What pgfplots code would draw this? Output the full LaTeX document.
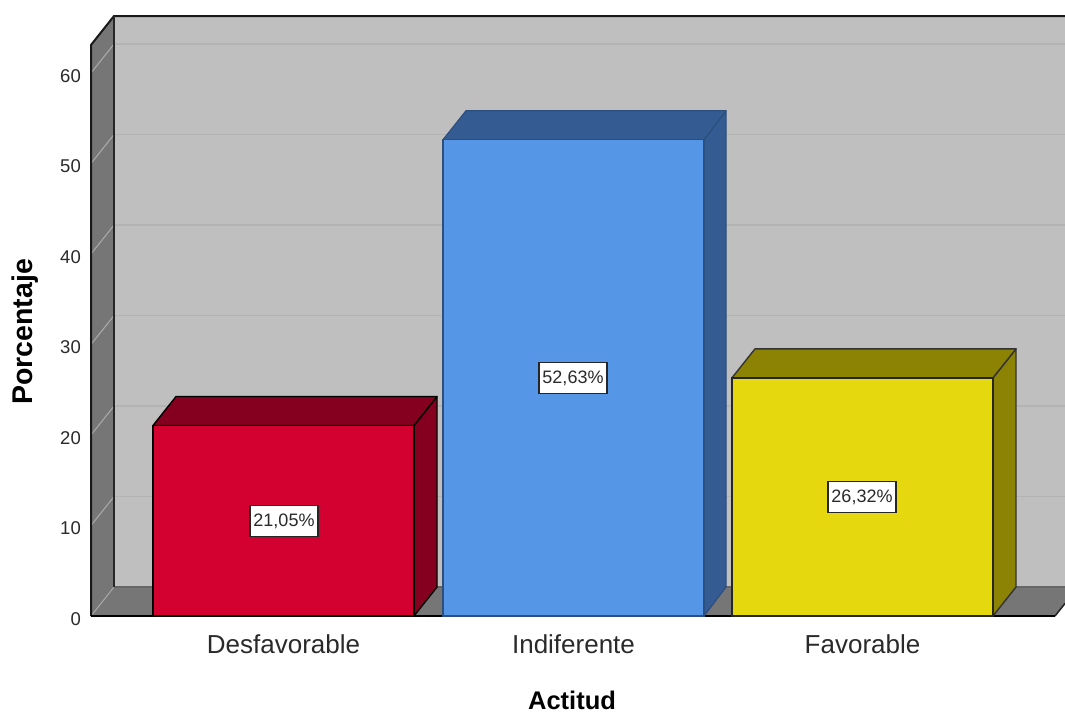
\documentclass[border=0pt]{standalone}
\usepackage{fontspec}
\setmainfont{Liberation Sans}
\usepackage{pgfplots}
\pgfplotsset{compat=1.18}
\definecolor{wallc}{HTML}{BFBFBF}
\definecolor{gridc}{HTML}{B3B3B3}
\definecolor{sidewall}{HTML}{767676}
\definecolor{sidegrid}{HTML}{A8A8A8}
\definecolor{redf}{HTML}{D3012F}
\definecolor{redd}{HTML}{85001F}
\definecolor{bluef}{HTML}{5596E6}
\definecolor{blued}{HTML}{345C93}
\definecolor{blueline}{HTML}{2D4F7F}
\definecolor{yelf}{HTML}{E6D80F}
\definecolor{yeld}{HTML}{8C8305}
\definecolor{txt}{HTML}{2A2A2A}
\tikzset{vlab/.style={draw=black!85,fill=white,line width=1.5pt,inner sep=0pt,minimum width=68pt,minimum height=31pt,text=txt,font=\fontsize{18}{20}\selectfont}}
\begin{document}
\begin{tikzpicture}
\begin{axis}[
  name=a, scale only axis, width=974pt, height=600pt,
  xmin=91, xmax=1065, ymin=0, ymax=66.3,
  clip=false,
  axis line style={draw=none}, tick style={draw=none}, major tick length=0pt,
  xtick={283.5,573.5,862.5},
  xticklabels={Desfavorable,Indiferente,Favorable},
  ytick={0,10,20,30,40,50,60},
  /pgf/number format/assume math mode=true,
  xticklabel style={anchor=base,yshift=-37pt,text=txt,font=\fontsize{26}{30}\selectfont},
  yticklabel style={anchor=east,inner sep=0pt,xshift=-10pt,yshift=-3pt,text=txt,font=\fontsize{18.5}{20}\selectfont},
  xlabel={Actitud}, ylabel={Porcentaje},
  every axis x label/.style={at={(axis cs:572,-9.35)},anchor=center,inner sep=0pt,font=\fontsize{25.5}{27}\selectfont\bfseries},
  every axis y label/.style={at={(axis cs:25.5,31.4)},anchor=center,rotate=90,inner sep=0pt,font=\fontsize{28.5}{30}\selectfont\bfseries},
]
% back wall
\addplot[fill=wallc,draw=none] coordinates {(114,3.2)(114,66.3)(1065,66.3)(1065,3.2)(114,3.2)};
% left wall
\addplot[fill=sidewall,draw=none] coordinates {(91,0)(114,3.2)(114,66.3)(91,63.1)(91,0)};
% grid lines on both walls
\addplot[gridc,line width=1.6pt] coordinates {(114,13.2)(1065,13.2)};
\addplot[gridc,line width=1.6pt] coordinates {(114,23.2)(1065,23.2)};
\addplot[gridc,line width=1.6pt] coordinates {(114,33.2)(1065,33.2)};
\addplot[gridc,line width=1.6pt] coordinates {(114,43.2)(1065,43.2)};
\addplot[gridc,line width=1.6pt] coordinates {(114,53.2)(1065,53.2)};
\addplot[gridc,line width=1.6pt] coordinates {(114,63.2)(1065,63.2)};
\addplot[sidegrid,line width=1.1pt] coordinates {(91,10)(114,13.2)};
\addplot[sidegrid,line width=1.1pt] coordinates {(91,20)(114,23.2)};
\addplot[sidegrid,line width=1.1pt] coordinates {(91,30)(114,33.2)};
\addplot[sidegrid,line width=1.1pt] coordinates {(91,40)(114,43.2)};
\addplot[sidegrid,line width=1.1pt] coordinates {(91,50)(114,53.2)};
\addplot[sidegrid,line width=1.1pt] coordinates {(91,60)(114,63.2)};
% floor
\addplot[fill=sidewall,draw=none] coordinates {(91,0)(114,3.2)(1065,3.2)(1065,1.39)(1055,0)(91,0)};
\addplot[sidegrid,line width=1pt] coordinates {(91,0)(114,3.2)};
\addplot[color=black!60,line width=1.4pt] coordinates {(114,3.2)(1065,3.2)};
\addplot[color=black!85,line width=1.6pt] coordinates {(1055,0)(1065,1.39)};
% frame lines
\addplot[black!90,line width=2pt] coordinates {(91,0)(91,63.1)(114,66.3)(1065,66.3)};
\addplot[black!85,line width=2.2pt] coordinates {(114,3.2)(114,66.3)};
\addplot[black,line width=2pt] coordinates {(91,0)(1055,0)};
% Desfavorable
\addplot[fill=redd,draw=black,line width=1.4pt,line join=round] coordinates {(414,0)(437,3.2)(437,24.25)(414,21.05)(414,0)};
\addplot[fill=redd,draw=black,line width=1.4pt,line join=round] coordinates {(153,21.05)(176,24.25)(437,24.25)(414,21.05)(153,21.05)};
\addplot[ybar,bar width=261pt,bar shift=0pt,fill=redf,draw=black,line width=1.6pt] coordinates {(283.5,21.05)};
% Indiferente
\addplot[fill=blued,draw=blueline,line width=1.2pt,line join=round] coordinates {(704,0)(726,3.2)(726,55.83)(704,52.63)(704,0)};
\addplot[fill=blued,draw=blueline,line width=1.2pt,line join=round] coordinates {(443,52.63)(466,55.83)(726,55.83)(704,52.63)(443,52.63)};
\addplot[ybar,bar width=261pt,bar shift=0pt,fill=bluef,draw=blueline,line width=1.2pt] coordinates {(573.5,52.63)};
% Favorable
\addplot[fill=yeld,draw=black!80,line width=1.4pt,line join=round] coordinates {(993,0)(1016,3.2)(1016,29.52)(993,26.32)(993,0)};
\addplot[fill=yeld,draw=black!80,line width=1.4pt,line join=round] coordinates {(732,26.32)(755,29.52)(1016,29.52)(993,26.32)(732,26.32)};
\addplot[ybar,bar width=261pt,bar shift=0pt,fill=yelf,draw=black!85,line width=1.5pt] coordinates {(862.5,26.32)};
\draw[black,line width=2pt] (axis cs:91,0) -- (axis cs:153,0);
% value labels
\node[vlab] at (axis cs:284,10.5) {21,05\%};
\node[vlab] at (axis cs:573,26.3) {52,63\%};
\node[vlab] at (axis cs:862,13.15) {26,32\%};
\end{axis}
\pgfresetboundingbox
\path[use as bounding box,shift={(a.south west)}] (-91pt,-99pt) rectangle (974pt,616pt);
\end{tikzpicture}
\end{document}
